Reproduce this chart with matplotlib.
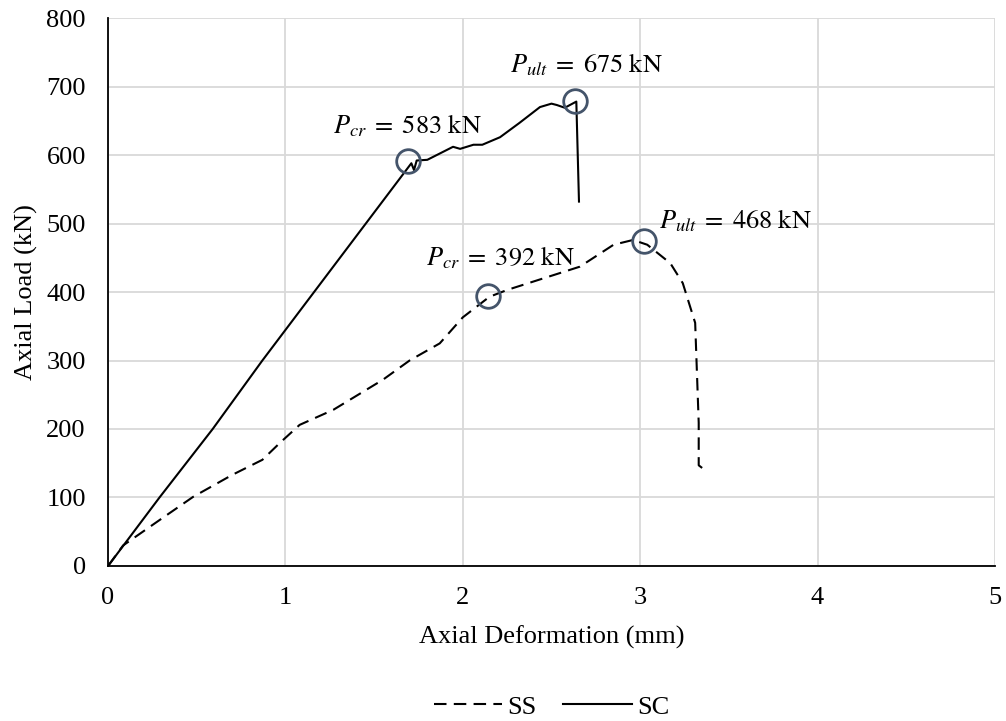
import matplotlib.pyplot as plt

plt.rcParams['font.family'] = ['Liberation Serif', 'DejaVu Serif']
plt.rcParams['mathtext.fontset'] = 'stix'

# SS specimen (dashed)
ss_def = [0, 0.085, 0.29, 0.48, 0.70, 0.87, 0.97, 1.08, 1.27, 1.55, 1.70, 1.87,
          2.0, 2.15, 2.25, 2.66, 2.85, 2.96, 3.04, 3.17, 3.24, 3.31, 3.33, 3.33, 3.35]
ss_load = [0, 30, 67, 101, 133, 155, 180, 206, 228, 272, 300, 325,
           363, 393, 403, 437, 469, 476, 469, 442, 413, 355, 209, 147, 143]

# SC specimen (solid)
sc_def = [0, 0.29, 0.59, 0.87, 1.71, 1.725, 1.74, 1.80, 1.945, 1.985, 2.06, 2.11,
          2.21, 2.32, 2.435, 2.50, 2.53, 2.575, 2.64, 2.655]
sc_load = [0, 100, 200, 300, 588, 578, 592, 593, 612, 609, 615, 615,
           626, 647, 670, 675, 673, 669, 678, 532]

# circled points and their notes
marks_x = [1.69, 2.63, 2.14, 3.02]
marks_y = [591, 679, 394, 474]
labels = [r'$P_{cr}\;=\;583\ \mathrm{kN}$', r'$P_{ult}\;=\;675\ \mathrm{kN}$',
          r'$P_{cr}\;=\;392\ \mathrm{kN}$', r'$P_{ult}\;=\;468\ \mathrm{kN}$']
label_x = [1.268, 2.266, 1.79, 3.106]
label_y = [632, 720, 439, 493]

fig = plt.figure(figsize=(10.06, 7.21), dpi=100)
ax = fig.add_axes([0.1074, 0.215, 0.8816, 0.76])

ax.plot(ss_def, ss_load, color='black', lw=1.5, ls=(0, (6, 3.5)), label='SS')
ax.plot(sc_def, sc_load, color='black', lw=1.5, label='SC')

ax.plot(marks_x, marks_y, 'o', ms=17, mfc='none', mec='#44546A', mew=2.0, zorder=5)
for tx, ty, s in zip(label_x, label_y, labels):
    ax.text(tx, ty, s, fontsize=19, ha='left', va='baseline')

ax.set_xlim(0, 5)
ax.set_ylim(0, 800)
ax.set_xticks(range(0, 6))
ax.set_yticks(range(0, 801, 100))
ax.grid(True, color='#D9D9D9', lw=1.3)
ax.set_axisbelow(True)
ax.tick_params(length=0, labelsize=19)
ax.tick_params(axis='y', pad=16)
ax.tick_params(axis='x', pad=15)
for s in ['top', 'right']:
    ax.spines[s].set_visible(False)
for s in ['left', 'bottom']:
    ax.spines[s].set_linewidth(1.3)

ax.set_xlabel('Axial Deformation (mm)', fontsize=19, labelpad=12)
ax.set_ylabel('Axial Load (kN)', fontsize=19, labelpad=6)

ax.legend(loc='center', bbox_to_anchor=(0.5, -0.257), ncol=2, frameon=False,
          fontsize=19, handlelength=2.6, columnspacing=1.0, handletextpad=0.2)

fig.savefig('out.png', dpi=100)
